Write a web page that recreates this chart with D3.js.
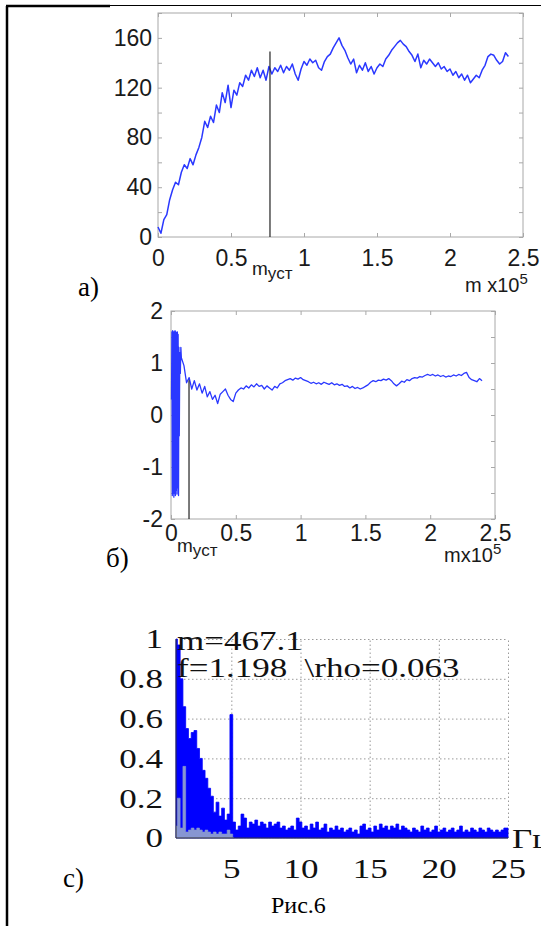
<!DOCTYPE html>
<html>
<head>
<meta charset="utf-8">
<script src="https://cdn.jsdelivr.net/npm/d3@7"></script>
<style>
  body { margin: 0; background: #fff; overflow: hidden; }
  svg { display: block; }
</style>
</head>
<body>
<script>
const W = 541, H = 926;

// panel a) : value vs m (x10^5), sampled every 0.02
const aStep = 0.02;
const aVals = [8,3,14,18,30,38,44,42,52,58,
  55,63,58,66,72,80,93,88,97,92,
  106,100,116,108,122,104,118,114,124,121,
  130,126,134,129,136,128,134,126,137,131,
  136,133,138,132,137,134,139,131,126,135,
  141,138,143,140,142,136,134,141,145,147,
  152,156,160,154,150,144,139,143,132,138,
  134,140,133,137,131,136,139,137,143,146,
  150,153,156,158,155,153,149,146,141,147,
  136,142,139,143,140,137,140,135,137,133,
  135,130,133,128,131,126,130,124,127,130,
  128,134,138,145,147,146,142,139,141,148,
  145];
const aMarker = [0.767, 149];
const aXTicks = [0, 0.5, 1, 1.5, 2, 2.5];
const aYTicks = [0,20,40,60,80,100,120,140,160,180];

// panel б) : start oscillation, then every 0.02 from 0.08
const bHeadX = [0.004,0.007,0.010,0.013,0.016,0.019,0.022,0.025,0.028,0.031,0.034,0.037,0.040,0.043,0.046,0.049,0.052,0.055,0.058,0.061,0.064,0.068,0.072,0.076];
const bHeadY = [0.3,1.6,-1.55,1.62,-1.5,1.6,-1.58,1.6,-1.5,1.62,-1.55,1.6,-1.45,1.58,-1.52,1.6,-1.4,1.55,-1.55,1.3,-0.4,1.2,0.8,1.3];
const bStart = 0.08, bStep = 0.02;
const bVals = [1.1,0.95,0.62,0.72,0.50,0.66,0.48,0.60,0.42,0.55,
  0.35,0.45,0.30,0.38,0.22,0.40,0.45,0.50,0.38,0.30,
  0.26,0.42,0.48,0.52,0.50,0.56,0.52,0.58,0.54,0.60,
  0.55,0.57,0.50,0.56,0.52,0.48,0.55,0.52,0.60,0.62,
  0.66,0.68,0.70,0.67,0.71,0.69,0.72,0.68,0.66,0.64,
  0.61,0.63,0.60,0.62,0.59,0.63,0.61,0.59,0.62,0.58,
  0.60,0.57,0.59,0.55,0.56,0.52,0.55,0.51,0.53,0.50,
  0.52,0.55,0.58,0.63,0.66,0.64,0.67,0.66,0.69,0.67,
  0.70,0.66,0.60,0.56,0.60,0.65,0.63,0.68,0.66,0.70,
  0.72,0.71,0.74,0.73,0.76,0.78,0.76,0.78,0.75,0.77,
  0.74,0.76,0.73,0.75,0.74,0.77,0.75,0.78,0.76,0.80,
  0.82,0.72,0.68,0.66,0.64,0.70,0.66];
const bMarker = [0.139, 0.67];
const bXTicks = [0, 0.5, 1, 1.5, 2, 2.5];
const bYTicks = [-2,-1.5,-1,-0.5,0,0.5,1,1.5,2];

// panel с) : spectrum, every 0.2 Hz from 1
const cStart = 1, cStep = 0.2;
const cVals = [1.00,0.97,0.80,0.66,0.55,0.50,0.53,0.54,0.45,0.40,
  0.34,0.30,0.25,0.21,0.13,0.18,0.11,0.15,0.09,0.12,
  0.62,0.08,0.04,0.06,0.12,0.10,0.05,0.08,0.07,0.09,
  0.06,0.08,0.07,0.05,0.08,0.06,0.07,0.08,0.05,0.06,
  0.04,0.05,0.06,0.04,0.10,0.08,0.05,0.06,0.04,0.07,
  0.05,0.08,0.04,0.05,0.07,0.03,0.05,0.04,0.06,0.04,
  0.05,0.03,0.04,0.05,0.03,0.04,0.02,0.06,0.07,0.04,
  0.05,0.03,0.06,0.04,0.07,0.05,0.06,0.04,0.06,0.05,
  0.07,0.04,0.06,0.05,0.04,0.03,0.05,0.04,0.03,0.06,
  0.04,0.05,0.03,0.04,0.06,0.03,0.04,0.05,0.03,0.04,
  0.05,0.03,0.04,0.06,0.03,0.04,0.03,0.05,0.04,0.03,
  0.05,0.04,0.03,0.05,0.04,0.03,0.04,0.03,0.04,0.05];
const cNoise = [0.06,0.20,0.05,0.36,0.03,0.04,0.05,0.04,0.05,0.04,0.03,0.04,0.03,0.02,0.03,0.02,0.03,0.02,0.02,0.04,0.02];
const cXTicks = [5, 10, 15, 20, 25];
const cYTicks = [0, 0.2, 0.4, 0.6, 0.8, 1];

const svg = d3.select("body").append("svg")
  .attr("width", W).attr("height", H);

// page frame
svg.append("line").attr("x1", 7).attr("y1", 6).attr("x2", 7).attr("y2", H)
  .attr("stroke", "#000").attr("stroke-width", 2.5);
svg.append("line").attr("x1", 6).attr("y1", 6).attr("x2", 110).attr("y2", 6)
  .attr("stroke", "#000").attr("stroke-width", 2.5);
svg.append("line").attr("x1", 110).attr("y1", 5.5).attr("x2", W).attr("y2", 5.5)
  .attr("stroke", "#000").attr("stroke-width", 1);

const sans = "'Liberation Sans', Arial, sans-serif";
const serif = "'Liberation Serif', 'Times New Roman', serif";

// matlab-like box with inward ticks
function boxAxes(x, y, xTicks, yTicks, yLabel, xPad, yPad) {
  const [x0, x1] = x.range(), [y0, y1] = y.range();
  const g = svg.append("g");
  g.append("rect").attr("x", x0).attr("y", y1)
    .attr("width", x1 - x0).attr("height", y0 - y1)
    .attr("fill", "none").attr("stroke", "#a8a8a8");
  g.append("g").attr("transform", `translate(0,${y0})`)
    .call(d3.axisBottom(x).tickValues(xTicks).tickSize(-4).tickSizeOuter(0)
      .tickPadding(xPad).tickFormat(d => String(d)));
  g.append("g").attr("transform", `translate(0,${y1})`)
    .call(d3.axisTop(x).tickValues(xTicks).tickSize(-4).tickSizeOuter(0).tickFormat(""));
  g.append("g").attr("transform", `translate(${x0},0)`)
    .call(d3.axisLeft(y).tickValues(yTicks).tickSize(-4).tickSizeOuter(0)
      .tickPadding(yPad).tickFormat(d => yLabel(d) ? String(d) : ""));
  g.append("g").attr("transform", `translate(${x1},0)`)
    .call(d3.axisRight(y).tickValues(yTicks).tickSize(-4).tickSizeOuter(0).tickFormat(""));
  g.selectAll("path.domain").remove();
  g.selectAll(".tick line").attr("stroke", "#a8a8a8");
  g.selectAll(".tick text").attr("fill", "#1a1a1a")
    .style("font-family", sans).style("font-size", "23px");
  return g;
}

// ---------- panel a ----------
const ax = d3.scaleLinear().domain([0, 2.5]).range([158, 523]);
const ay = d3.scaleLinear().domain([0, 180]).range([237, 13]);
boxAxes(ax, ay, aXTicks, aYTicks, d => d % 40 === 0 && d <= 160, 13, 6);

const aPts = aVals.map((v, i) => [i * aStep, v]);
const line = (x, y) => d3.line().x(d => x(d[0])).y(d => y(d[1]));
svg.append("path").datum(aPts)
  .attr("d", line(ax, ay))
  .attr("fill", "none").attr("stroke", "#2a38ff").attr("stroke-width", 1.5)
  .attr("stroke-linejoin", "round");
svg.append("line")
  .attr("x1", ax(aMarker[0])).attr("x2", ax(aMarker[0]))
  .attr("y1", ay(0)).attr("y2", ay(aMarker[1]))
  .attr("stroke", "#222").attr("stroke-width", 1.2);

const aM = svg.append("text").attr("x", 252).attr("y", 275)
  .style("font-family", sans).style("font-size", "19px").attr("fill", "#1a1a1a");
aM.append("tspan").text("m");
aM.append("tspan").attr("dy", 4).style("font-size", "17px").text("уст");
const aU = svg.append("text").attr("x", 465).attr("y", 292)
  .style("font-family", sans).style("font-size", "20px").attr("fill", "#1a1a1a");
aU.append("tspan").text("m x10");
aU.append("tspan").attr("dy", -8).style("font-size", "15px").text("5");

svg.append("text").attr("x", 78).attr("y", 296)
  .style("font-family", serif).style("font-size", "27px").text("а)");

// ---------- panel б ----------
const bx = d3.scaleLinear().domain([0, 2.5]).range([171, 495]);
const by = d3.scaleLinear().domain([-2, 2]).range([519, 311]);
boxAxes(bx, by, bXTicks, bYTicks, d => Number.isInteger(d), 6, 8);

const bPts = bHeadX.map((v, i) => [v, bHeadY[i]])
  .concat(bVals.map((v, i) => [bStart + i * bStep, v]));
svg.append("path").datum(bPts)
  .attr("d", line(bx, by))
  .attr("fill", "none").attr("stroke", "#2a38ff").attr("stroke-width", 1.3)
  .attr("stroke-linejoin", "round");
svg.append("line")
  .attr("x1", bx(bMarker[0])).attr("x2", bx(bMarker[0]))
  .attr("y1", by(-2)).attr("y2", by(bMarker[1]))
  .attr("stroke", "#222").attr("stroke-width", 1.2);

const bM = svg.append("text").attr("x", 177).attr("y", 552)
  .style("font-family", sans).style("font-size", "19px").attr("fill", "#1a1a1a");
bM.append("tspan").text("m");
bM.append("tspan").attr("dy", 4).style("font-size", "17px").text("уст");
const bU = svg.append("text").attr("x", 444).attr("y", 562)
  .style("font-family", sans).style("font-size", "20px").attr("fill", "#1a1a1a");
bU.append("tspan").text("mx10");
bU.append("tspan").attr("dy", -8).style("font-size", "15px").text("5");

svg.append("text").attr("x", 106).attr("y", 567)
  .style("font-family", serif).style("font-size", "27px").text("б)");

// ---------- panel с ----------
const cx = d3.scaleLinear().domain([1, 25]).range([176, 508]);
const cy = d3.scaleLinear().domain([0, 1]).range([838, 639]);
const sx = 1.25;

const grid = svg.append("g");
grid.append("g").attr("transform", `translate(0,${cy(0)})`)
  .call(d3.axisBottom(cx).tickValues(cXTicks).tickSize(-(cy(0) - cy(1))).tickFormat(""));
grid.append("g").attr("transform", `translate(${cx(1)},0)`)
  .call(d3.axisLeft(cy).tickValues(cYTicks.slice(1)).tickSize(-(cx(25) - cx(1))).tickFormat(""));
grid.selectAll("path.domain").remove();
grid.selectAll(".tick line").attr("stroke", "#9a9a9a").attr("stroke-dasharray", "1.5,2.5");

const cPts = cVals.map((v, i) => [cStart + i * cStep, v]);
cPts.push([25, cVals[cVals.length - 1]]);
const nPts = cNoise.map((v, i) => [cStart + i * cStep, v]);
nPts.push([cStart + cNoise.length * cStep, 0]);
const area = d3.area().curve(d3.curveStep)
  .x(d => cx(d[0])).y0(cy(0)).y1(d => cy(d[1]));
svg.append("path").datum(cPts).attr("d", area)
  .attr("fill", "#0000ff").attr("stroke", "#0000ff").attr("stroke-width", 0.8);
svg.append("path").datum(nPts).attr("d", area)
  .attr("fill", "#8796d2").attr("stroke", "#8796d2").attr("stroke-width", 0.6);

svg.append("line").attr("x1", cx(1)).attr("x2", cx(1)).attr("y1", cy(0)).attr("y2", cy(1))
  .attr("stroke", "#333");
svg.append("line").attr("x1", cx(1)).attr("x2", cx(25)).attr("y1", cy(0)).attr("y2", cy(0))
  .attr("stroke", "#333");

const cl = svg.append("g");
cl.append("g").attr("transform", `translate(${cx(1)},0)`)
  .call(d3.axisLeft(cy).tickValues(cYTicks).tickSize(0).tickPadding(13 / sx).tickFormat(d => String(d)));
cl.append("g").attr("transform", `translate(0,${cy(0)})`)
  .call(d3.axisBottom(cx).tickValues(cXTicks).tickSize(0).tickPadding(20).tickFormat(d => String(d)));
cl.selectAll("path.domain").remove();
cl.selectAll(".tick text").attr("fill", "#111")
  .attr("transform", `scale(${sx},1)`)
  .style("font-family", serif).style("font-size", "28px");

svg.append("text").attr("transform", `translate(177,650) scale(${sx},1)`)
  .style("font-family", serif).style("font-size", "28px").attr("fill", "#111")
  .text("m=467.1");
svg.append("text").attr("transform", `translate(177,677) scale(${sx},1)`)
  .style("font-family", serif).style("font-size", "28px").style("white-space", "pre").attr("fill", "#111")
  .text("f=1.198  \\rho=0.063");
svg.append("text").attr("transform", `translate(512,848) scale(${sx},1)`)
  .style("font-family", serif).style("font-size", "28px").attr("fill", "#111")
  .text("Гц");

svg.append("text").attr("x", 63).attr("y", 887)
  .style("font-family", serif).style("font-size", "27px").text("с)");
svg.append("text").attr("x", 271).attr("y", 913)
  .style("font-family", serif).style("font-size", "24px").text("Рис.6");
</script>
</body>
</html>
